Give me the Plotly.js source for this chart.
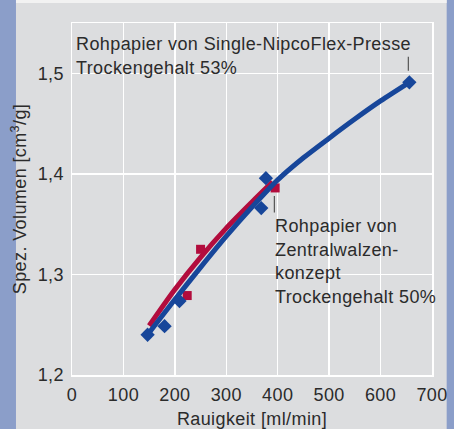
<!DOCTYPE html>
<html>
<head>
<meta charset="utf-8">
<script src="https://cdn.plot.ly/plotly-3.0.1.min.js"></script>
<style>
  html, body { margin: 0; padding: 0; background: #dcdddf; }
  #chart { width: 454px; height: 429px; }
  text { letter-spacing: 0.4px; }
</style>
</head>
<body>
<div id="chart"></div>
<script>
// Measured points: Rohpapier von Single-NipcoFlex-Presse (blue diamonds)
const blueX = [147, 180, 209, 368, 377, 656];
const blueY = [1.240, 1.2485, 1.2736, 1.366, 1.3957, 1.491];
// Fit curve (blue)
const blueFitX = [147, 200, 250, 300, 350, 400, 450, 500, 550, 600, 656];
const blueFitY = [1.240, 1.275, 1.307, 1.338, 1.367, 1.394, 1.416, 1.4355, 1.4545, 1.4725, 1.491];

// Measured points: Rohpapier von Zentralwalzenkonzept (red squares)
const redX = [224, 250, 395];
const redY = [1.279, 1.325, 1.386];
// Fit curve (red)
const redFitX = [150, 200, 250, 300, 350, 390];
const redFitY = [1.249, 1.285, 1.317, 1.346, 1.372, 1.392];

const xTicks = [0, 100, 200, 300, 400, 500, 600, 700];
const yTicks = [1.2, 1.3, 1.4, 1.5];

const blue = '#17469a';
const red = '#b20c3d';
const txt = '#2b2b2b';
const font = 'Liberation Sans, Arial, sans-serif';
const fs = 18;

const traces = [
  { x: redFitX, y: redFitY, mode: 'lines', line: { color: red, width: 5, shape: 'spline', smoothing: 0.8 }, hoverinfo: 'skip', showlegend: false },
  { x: redX, y: redY, mode: 'markers', marker: { symbol: 'square', size: 9, color: red }, showlegend: false },
  { x: blueFitX, y: blueFitY, mode: 'lines', line: { color: blue, width: 5, shape: 'spline', smoothing: 0.8 }, hoverinfo: 'skip', showlegend: false },
  { x: blueX, y: blueY, mode: 'markers', marker: { symbol: 'diamond', size: 11, color: blue }, showlegend: false }
];

const layout = {
  width: 454, height: 429,
  margin: { l: 72, r: 22, t: 23, b: 54 },
  paper_bgcolor: '#dcdddf',
  plot_bgcolor: '#dcdddf',
  separators: ', ',
  font: { family: font, size: fs, color: txt },
  showlegend: false,
  xaxis: {
    range: [0, 700], tickvals: xTicks, ticks: 'outside', ticklen: 3, tickcolor: 'rgba(0,0,0,0)',
    showgrid: true, gridcolor: '#ffffff', gridwidth: 1.5,
    showline: true, mirror: true, linecolor: '#ffffff', linewidth: 1.5, zeroline: false,
    tickfont: { family: font, size: fs, color: txt },
    title: { text: 'Rauigkeit [ml/min]', font: { family: font, size: fs, color: txt }, standoff: 8 }
  },
  yaxis: {
    range: [1.2, 1.55], tickvals: yTicks, tickformat: '.1f', ticks: 'outside', ticklen: 3, tickcolor: 'rgba(0,0,0,0)',
    showgrid: true, gridcolor: '#ffffff', gridwidth: 1.5,
    showline: true, mirror: true, linecolor: '#ffffff', linewidth: 1.5, zeroline: false,
    tickfont: { family: font, size: fs, color: txt },
    title: { text: 'Spez. Volumen [cm<sup>3</sup>/g]', font: { family: font, size: fs, color: txt }, standoff: 6 }
  },
  shapes: [
    { type: 'rect', xref: 'paper', yref: 'paper', x0: -0.21, x1: -0.1556, y0: -0.3, y1: 1.2, fillcolor: '#8b9ec9', line: { width: 0 }, layer: 'below' },
    { type: 'rect', xref: 'paper', yref: 'paper', x0: 1.0408, x1: 1.1, y0: -0.3, y1: 1.2, fillcolor: '#8b9ec9', line: { width: 0 }, layer: 'below' },
    { type: 'rect', xref: 'paper', yref: 'paper', x0: -0.1556, x1: 1.0408, y0: 1.0568, y1: 1.2, fillcolor: '#f2f2f2', line: { width: 0 }, layer: 'below' },
    { type: 'line', xref: 'x', yref: 'y', x0: 654, x1: 654, y0: 1.5025, y1: 1.5165, line: { color: '#555555', width: 1.2 } },
    { type: 'line', xref: 'x', yref: 'y', x0: 393.5, x1: 393.5, y0: 1.3617, y1: 1.378, line: { color: '#555555', width: 1.2 } }
  ],
  annotations: [
    { xref: 'x', yref: 'y', x: 4, y: 1.5287, xanchor: 'left', yanchor: 'middle', showarrow: false, text: 'Rohpapier von Single-NipcoFlex-Presse' },
    { xref: 'x', yref: 'y', x: 4, y: 1.5049, xanchor: 'left', yanchor: 'middle', showarrow: false, text: 'Trockengehalt 53%' },
    { xref: 'x', yref: 'y', x: 390, y: 1.3485, xanchor: 'left', yanchor: 'middle', showarrow: false, text: 'Rohpapier von' },
    { xref: 'x', yref: 'y', x: 390, y: 1.3238, xanchor: 'left', yanchor: 'middle', showarrow: false, text: 'Zentralwalzen-' },
    { xref: 'x', yref: 'y', x: 390, y: 1.3010, xanchor: 'left', yanchor: 'middle', showarrow: false, text: 'konzept' },
    { xref: 'x', yref: 'y', x: 390, y: 1.2775, xanchor: 'left', yanchor: 'middle', showarrow: false, text: 'Trockengehalt 50%' }
  ]
};

Plotly.newPlot('chart', traces, layout, { displayModeBar: false, staticPlot: true });
</script>
</body>
</html>
